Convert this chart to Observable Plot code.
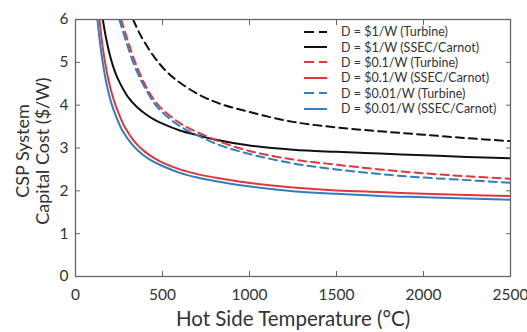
<!DOCTYPE html>
<html><head><meta charset="utf-8">
<script src="https://cdn.jsdelivr.net/npm/d3@7"></script>
<script src="https://cdn.jsdelivr.net/npm/@observablehq/plot@0.6"></script>
<style>
body{margin:0;background:#fff;}
#wrap{position:relative;width:527px;height:332px;font-family:Lato,sans-serif;color:#333;}
#legend{position:absolute;left:304px;top:24px;font-size:12.5px;}
.row{position:relative;height:15.4px;display:flex;align-items:center;white-space:nowrap;}
.row svg{margin-right:14px;}
</style></head><body><div id="wrap"><div id="legend"></div></div>
<script>
// ---- data ----
const seriesNames = ["D = $1/W (Turbine)", "D = $1/W (SSEC/Carnot)", "D = $0.1/W (Turbine)", "D = $0.1/W (SSEC/Carnot)", "D = $0.01/W (Turbine)", "D = $0.01/W (SSEC/Carnot)"];
const seriesColors = ["#111111", "#111111", "#e6353a", "#e6353a", "#2d7ec4", "#2d7ec4"];
const seriesDashed = [true, false, true, false, true, false];

const tempBlackDashed = [331, 374, 450, 527, 623, 737, 833, 1000, 1250, 1500, 1750, 2000, 2250, 2500];
const costBlackDashed = [6.0, 5.63, 5.14, 4.77, 4.46, 4.19, 4.03, 3.84, 3.61, 3.48, 3.39, 3.31, 3.23, 3.16];

const tempBlackSolid = [157, 175, 200, 225, 250, 300, 350, 400, 450, 500, 600, 700, 800, 1000, 1250, 1500, 1750, 2000, 2250, 2500];
const costBlackSolid = [6.0, 5.58, 5.13, 4.80, 4.56, 4.20, 3.97, 3.80, 3.67, 3.57, 3.41, 3.30, 3.20, 3.06, 2.96, 2.91, 2.87, 2.83, 2.79, 2.76];

const tempRedDashed = [262, 297, 345, 402, 469, 565, 642, 750, 833, 1000, 1250, 1500, 1750, 2000, 2250, 2500];
const costRedDashed = [6.0, 5.55, 4.98, 4.46, 4.03, 3.68, 3.48, 3.28, 3.14, 2.93, 2.73, 2.61, 2.50, 2.41, 2.34, 2.28];

const tempRedSolid = [138, 150, 165, 192, 220, 249, 287, 345, 400, 450, 500, 600, 700, 800, 950, 1250, 1500, 1750, 2000, 2250, 2500];
const costRedSolid = [6.0, 5.55, 5.12, 4.54, 4.12, 3.80, 3.46, 3.12, 2.91, 2.77, 2.66, 2.50, 2.39, 2.31, 2.21, 2.08, 2.01, 1.97, 1.93, 1.90, 1.88];

const tempBlueDashed = [252, 290, 340, 400, 469, 565, 642, 750, 833, 1000, 1250, 1500, 1750, 2000, 2250, 2500];
const costBlueDashed = [6.0, 5.50, 4.91, 4.40, 3.96, 3.61, 3.41, 3.20, 3.06, 2.86, 2.64, 2.50, 2.39, 2.31, 2.25, 2.19];

const tempBlueSolid = [126, 138, 152, 178, 205, 233, 270, 330, 385, 440, 500, 600, 700, 800, 950, 1250, 1500, 1750, 2000, 2250, 2500];
const costBlueSolid = [6.0, 5.55, 5.12, 4.50, 4.06, 3.74, 3.40, 3.06, 2.85, 2.70, 2.58, 2.42, 2.31, 2.23, 2.13, 1.99, 1.93, 1.88, 1.85, 1.82, 1.79];

const xTicks = [0, 500, 1000, 1500, 2000, 2500];
const yTicks = [0, 1, 2, 3, 4, 5, 6];
const xTitle = "Hot Side Temperature (°C)";
const yTitle = "CSP System\nCapital Cost ($/W)";

// ---- build ----
const temps = [tempBlackDashed, tempBlackSolid, tempRedDashed, tempRedSolid, tempBlueDashed, tempBlueSolid];
const costs = [costBlackDashed, costBlackSolid, costRedDashed, costRedSolid, costBlueDashed, costBlueSolid];

const lineMarks = seriesNames.map((_, i) => Plot.line(
  temps[i].map((t, j) => ({t, c: costs[i][j]})),
  {x: "t", y: "c", stroke: seriesColors[i], strokeWidth: 2,
   strokeDasharray: seriesDashed[i] ? "8,5" : null, curve: "catmull-rom", clip: true}
));

const chart = Plot.plot({
  width: 527, height: 332,
  marginLeft: 75, marginRight: 17, marginTop: 19, marginBottom: 56,
  style: {fontFamily: "Lato, sans-serif", fontSize: "15.5px", color: "#333", background: "white", overflow: "visible"},
  x: {domain: [0, 2500]},
  y: {domain: [0, 6]},
  marks: [
    ...lineMarks,
    Plot.axisX(xTicks, {anchor: "bottom", tickSize: -5, tickPadding: 17, tickFormat: d => String(d), label: null, stroke: "#666"}),
    Plot.axisX(xTicks, {anchor: "top", tickSize: -5, tickFormat: () => "", label: null, stroke: "#666"}),
    Plot.axisY(yTicks, {anchor: "left", tickSize: -5, tickPadding: 12, tickFormat: d => String(d), label: null, stroke: "#666"}),
    Plot.axisY(yTicks, {anchor: "right", tickSize: -5, tickFormat: () => "", label: null, stroke: "#666"}),
    Plot.frame({stroke: "#666", strokeWidth: 1.3}),
    Plot.text([xTitle], {frameAnchor: "bottom", dy: 43, lineAnchor: "middle", fontSize: 20.5, fill: "#333"}),
    Plot.text([yTitle], {frameAnchor: "left", dx: -43, dy: 3, rotate: -90, textAnchor: "middle", lineAnchor: "middle", lineHeight: 1.1, fontSize: 18, fill: "#333"})
  ]
});
document.getElementById("wrap").prepend(chart);

// legend
const legend = document.getElementById("legend");
seriesNames.forEach((name, i) => {
  const row = document.createElement("div");
  row.className = "row";
  row.innerHTML = `<svg width="23" height="6"><line x1="0" y1="3" x2="23" y2="3" stroke="${seriesColors[i]}" stroke-width="2" ${seriesDashed[i] ? 'stroke-dasharray="10,5"' : ''}/></svg><span>${name}</span>`;
  legend.appendChild(row);
});
</script>
</body></html>
